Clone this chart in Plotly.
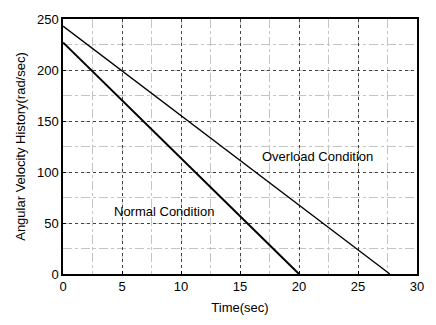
import plotly.graph_objects as go

time_normal = [0, 20]
vel_normal = [227, 0]
time_over = [0, 27.7]
vel_over = [243, 0]
x_ticks = [0, 5, 10, 15, 20, 25, 30]
y_ticks = [0, 50, 100, 150, 200, 250]

fig = go.Figure()
fig.add_trace(go.Scatter(x=time_normal, y=vel_normal, mode="lines",
                         line=dict(color="black", width=2), showlegend=False))
fig.add_trace(go.Scatter(x=time_over, y=vel_over, mode="lines",
                         line=dict(color="black", width=1.3), showlegend=False))

fig.add_annotation(x=8.6, y=61, text="Normal Condition", showarrow=False,
                   font=dict(family="Liberation Sans, Arial", size=13, color="black"))
fig.add_annotation(x=21.6, y=115, text="Overload Condition", showarrow=False,
                   font=dict(family="Liberation Sans, Arial", size=13, color="black"))

axis_common = dict(showline=True, linecolor="black", linewidth=1.5, mirror=True,
                   showgrid=True, gridcolor="#444", griddash="dot", gridwidth=1,
                   ticks="inside", ticklen=3, tickcolor="black", zeroline=False,
                   tickfont=dict(family="Liberation Sans, Arial", size=13, color="black"))

fig.update_xaxes(range=[0, 30], tickvals=x_ticks, **axis_common,
                 minor=dict(dtick=2.5, showgrid=True, gridcolor="#c4c4c4", griddash="dashdot", gridwidth=1),
                 title=dict(text="Time(sec)", font=dict(family="Liberation Sans, Arial", size=13, color="black"), standoff=10))
fig.update_yaxes(range=[0, 250], tickvals=y_ticks, **axis_common,
                 minor=dict(dtick=25, showgrid=True, gridcolor="#c4c4c4", griddash="dashdot", gridwidth=1),
                 title=dict(text="Angular Velocity History(rad/sec)", font=dict(family="Liberation Sans, Arial", size=13, color="black"), standoff=8))

fig.update_layout(width=436, height=325, margin=dict(l=63, r=14, t=13, b=51),
                  plot_bgcolor="white", paper_bgcolor="white")
fig.write_html("out.html")
